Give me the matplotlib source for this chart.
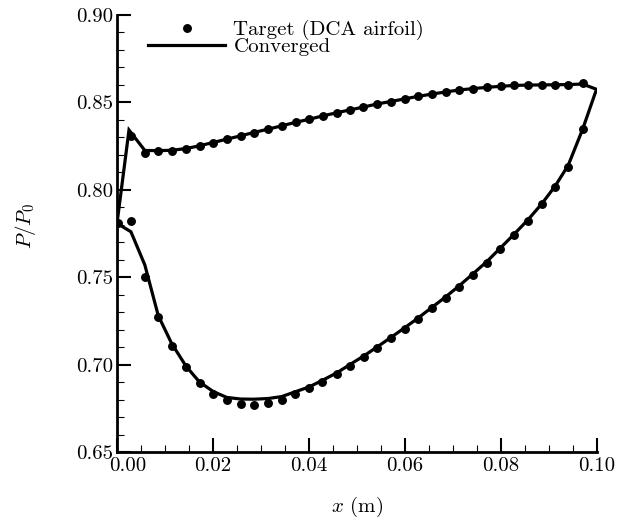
import matplotlib
matplotlib.use("Agg")
import matplotlib.pyplot as plt
import matplotlib.transforms as mtransforms
from matplotlib.ticker import MultipleLocator, FormatStrFormatter
from matplotlib.lines import Line2D

plt.rcParams['font.family'] = 'serif'
plt.rcParams['font.serif'] = ['cmr10']
plt.rcParams['mathtext.fontset'] = 'cm'
plt.rcParams['axes.formatter.use_mathtext'] = True
plt.rcParams['axes.unicode_minus'] = False

# Target (DCA airfoil) points: upper surface
target_upper_x = [0.0003, 0.0029, 0.0058, 0.0086, 0.0114, 0.0144, 0.0172, 0.0201, 0.0229, 0.0258,
                  0.0285, 0.0315, 0.0343, 0.0372, 0.0401, 0.0429, 0.0458, 0.0485, 0.0513, 0.0542,
                  0.0570, 0.0599, 0.0628, 0.0657, 0.0685, 0.0713, 0.0742, 0.0770, 0.0799, 0.0827,
                  0.0856, 0.0885, 0.0913, 0.0940, 0.0970]
target_upper_y = [0.7808, 0.8308, 0.8212, 0.8222, 0.8224, 0.8235, 0.8251, 0.8270, 0.8289, 0.8308,
                  0.8327, 0.8346, 0.8365, 0.8386, 0.8403, 0.8422, 0.8441, 0.8456, 0.8472, 0.8491,
                  0.8504, 0.8519, 0.8535, 0.8548, 0.8559, 0.8571, 0.8578, 0.8586, 0.8592, 0.8598,
                  0.8600, 0.8601, 0.8601, 0.8601, 0.8609]
# Target points: lower surface
target_lower_x = [0.0029, 0.0058, 0.0086, 0.0114, 0.0144, 0.0172, 0.0201, 0.0229, 0.0258, 0.0285,
                  0.0314, 0.0343, 0.0371, 0.0400, 0.0428, 0.0458, 0.0485, 0.0515, 0.0542, 0.0571,
                  0.0599, 0.0628, 0.0656, 0.0685, 0.0713, 0.0741, 0.0770, 0.0798, 0.0827, 0.0856,
                  0.0885, 0.0913, 0.0940, 0.0970]
target_lower_y = [0.7822, 0.7503, 0.7274, 0.7106, 0.6984, 0.6897, 0.6832, 0.6797, 0.6775, 0.6769,
                  0.6780, 0.6799, 0.6831, 0.6864, 0.6902, 0.6946, 0.6994, 0.7045, 0.7095, 0.7150,
                  0.7205, 0.7263, 0.7322, 0.7383, 0.7446, 0.7513, 0.7583, 0.7660, 0.7740, 0.7823,
                  0.7916, 0.8018, 0.8132, 0.8346]

# Converged solution (closed contour: leading edge -> upper -> trailing edge -> lower -> leading edge)
conv_x = [0.0000, 0.0025, 0.0058, 0.0086, 0.0114, 0.0144, 0.0172, 0.0201, 0.0229, 0.0258,
          0.0285, 0.0315, 0.0343, 0.0372, 0.0401, 0.0429, 0.0458, 0.0485, 0.0513, 0.0542,
          0.0570, 0.0599, 0.0628, 0.0657, 0.0685, 0.0713, 0.0742, 0.0770, 0.0799, 0.0827,
          0.0856, 0.0885, 0.0913, 0.0940, 0.0970, 0.0999,
          0.0970, 0.0940, 0.0913, 0.0885, 0.0856, 0.0827, 0.0798, 0.0770, 0.0741, 0.0713,
          0.0685, 0.0656, 0.0628, 0.0599, 0.0571, 0.0542, 0.0515, 0.0485, 0.0458, 0.0428,
          0.0400, 0.0372, 0.0343, 0.0315, 0.0285, 0.0258, 0.0229, 0.0201, 0.0172, 0.0144,
          0.0114, 0.0086, 0.0058, 0.0029, 0.0000]
conv_y = [0.7808, 0.8342, 0.8225, 0.8224, 0.8226, 0.8236, 0.8252, 0.8271, 0.8290, 0.8309,
          0.8328, 0.8347, 0.8366, 0.8386, 0.8404, 0.8423, 0.8441, 0.8457, 0.8473, 0.8491,
          0.8505, 0.8520, 0.8535, 0.8548, 0.8560, 0.8571, 0.8579, 0.8586, 0.8592, 0.8597,
          0.8599, 0.8600, 0.8601, 0.8602, 0.8605, 0.8575,
          0.8346, 0.8140, 0.8022, 0.7920, 0.7828, 0.7745, 0.7665, 0.7588, 0.7518, 0.7451,
          0.7388, 0.7327, 0.7268, 0.7210, 0.7156, 0.7101, 0.7051, 0.7000, 0.6953, 0.6910,
          0.6872, 0.6845, 0.6817, 0.6806, 0.6802, 0.6803, 0.6812, 0.6845, 0.6900, 0.6990,
          0.7120, 0.7280, 0.7570, 0.7760, 0.7808]

x_ticks = [0.00, 0.02, 0.04, 0.06, 0.08, 0.10]
y_ticks = [0.65, 0.70, 0.75, 0.80, 0.85, 0.90]

fig = plt.figure(figsize=(6.18, 5.23), dpi=100)
ax = fig.add_axes([117/618, 1 - 452/523, 480/618, 437/523])

ax.plot(conv_x, conv_y, color='black', lw=2.3, solid_joinstyle='miter', zorder=2)
ax.plot(target_upper_x, target_upper_y, 'o', color='black', ms=5.4, zorder=3)
ax.plot(target_lower_x, target_lower_y, 'o', color='black', ms=5.4, zorder=3)

ax.set_xlim(0.0, 0.10)
ax.set_ylim(0.65, 0.90)
ax.set_xticks(x_ticks)
ax.set_yticks(y_ticks)
ax.xaxis.set_major_formatter(FormatStrFormatter('%.2f'))
ax.yaxis.set_major_formatter(FormatStrFormatter('%.2f'))
ax.xaxis.set_minor_locator(MultipleLocator(0.005))
ax.yaxis.set_minor_locator(MultipleLocator(0.01))
ax.tick_params(which='major', direction='in', length=10, width=1.5, labelsize=15)
ax.tick_params(axis='x', which='major', pad=4)
ax.tick_params(axis='y', which='major', pad=3)
ax.tick_params(which='minor', direction='in', length=5, width=0.8)
ax.tick_params(top=False, right=False, which='both')
for s in ['top', 'right']:
    ax.spines[s].set_visible(False)
for s in ['left', 'bottom']:
    ax.spines[s].set_linewidth(2.0)

# shift the first x tick label slightly right (as in reference)
fig.canvas.draw()
first_lbl = ax.get_xticklabels()[0]
first_lbl.set_transform(first_lbl.get_transform() +
                        mtransforms.ScaledTranslation(11/100, 0, fig.dpi_scale_trans))

ax.set_xlabel('$x$ (m)', fontsize=15, labelpad=14)
ax.set_ylabel('$P/P_0$', fontsize=15)
ax.yaxis.set_label_coords(-(117 - 38)/480, (452 - 226)/437)

handles = [Line2D([], [], ls='none', marker='o', color='black', ms=5.4),
           Line2D([], [], color='black', lw=2.3)]
ax.legend(handles, ['Target (DCA airfoil)', 'Converged'], loc='upper left',
          bbox_to_anchor=(148/618, 1 - 20/523), bbox_transform=fig.transFigure,
          frameon=False, fontsize=15, handlelength=3.7, handletextpad=0.4,
          labelspacing=-0.12, borderpad=0, borderaxespad=0)

fig.savefig('out.png', dpi=100)
